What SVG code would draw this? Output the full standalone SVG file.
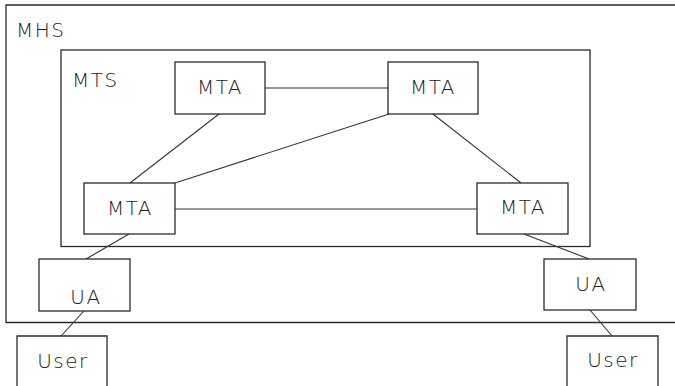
<svg xmlns="http://www.w3.org/2000/svg" width="675" height="386" viewBox="0 0 675 386">
<style>
.b{fill:none;stroke:#2b2b2b;stroke-width:1.3}
.c{fill:none;stroke:#333;stroke-width:1.1}
text{font-family:"DejaVu Sans","Liberation Sans",sans-serif;font-weight:200;font-size:20px;letter-spacing:1.5px;fill:#222}
.m{text-anchor:middle}
</style>
<rect width="675" height="386" fill="#fff"/>
<g id="MHS">
<path class="b" d="M675,5 H6 V322.5 H675"/>
<text x="16" y="37">MHS</text>
</g>
<g id="MTS">
<rect class="b" x="61" y="50" width="529" height="196.5"/>
<text x="72" y="87">MTS</text>
</g>
<g id="connectors">
<line class="c" x1="265" y1="88" x2="388" y2="88"/>
<line class="c" x1="219" y1="114" x2="130" y2="183"/>
<line class="c" x1="389" y1="114" x2="175" y2="183"/>
<line class="c" x1="433" y1="114" x2="521" y2="183"/>
<line class="c" x1="175" y1="209" x2="477" y2="209"/>
<line class="c" x1="129" y1="234" x2="86" y2="259"/>
<line class="c" x1="524" y1="234" x2="589" y2="259"/>
<line class="c" x1="84" y1="311" x2="61" y2="336"/>
<line class="c" x1="590" y1="310" x2="612" y2="336"/>
</g>
<g id="mta1">
<rect class="b" x="175" y="62" width="90" height="52"/>
<text class="m" x="220" y="94">MTA</text>
</g>
<g id="mta2">
<rect class="b" x="388" y="62" width="90" height="52"/>
<text class="m" x="433" y="94">MTA</text>
</g>
<g id="mta3">
<rect class="b" x="84" y="183" width="91" height="51"/>
<text class="m" x="130" y="215">MTA</text>
</g>
<g id="mta4">
<rect class="b" x="477" y="183" width="91" height="51"/>
<text class="m" x="523" y="214">MTA</text>
</g>
<g id="ua1">
<rect class="b" x="39" y="259" width="91" height="52"/>
<text class="m" x="86" y="304">UA</text>
</g>
<g id="ua2">
<rect class="b" x="544" y="259" width="92" height="51"/>
<text class="m" x="591" y="291">UA</text>
</g>
<g id="user1">
<path class="b" d="M17,387 V336 H107 V387"/>
<text class="m" x="63" y="368">User</text>
</g>
<g id="user2">
<path class="b" d="M567,387 V336 H658 V387"/>
<text class="m" x="613" y="367">User</text>
</g>
</svg>
